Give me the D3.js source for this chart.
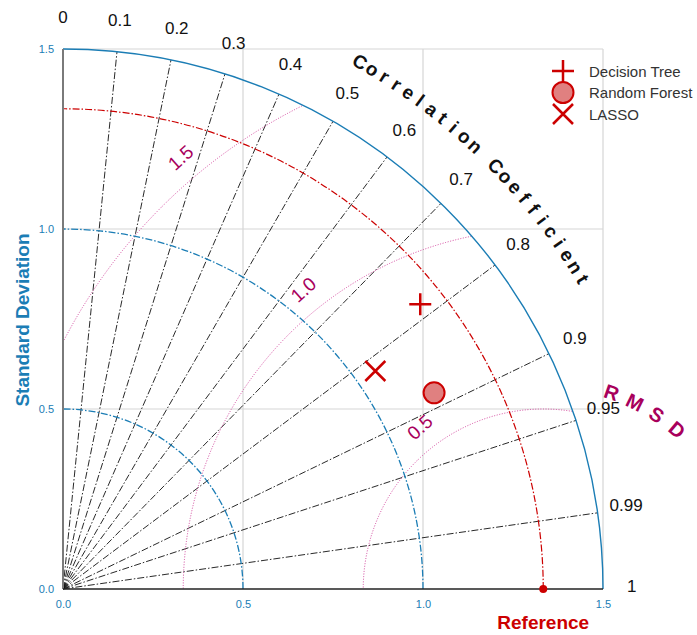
<!DOCTYPE html>
<html lang="en">
<head>
  <meta charset="UTF-8">
  <title>Taylor diagram</title>
  <script src="https://d3js.org/d3.v7.min.js"></script>
  <style>
    body,html{margin:0;padding:0;background:#fff;}
    text{font-family:"Liberation Sans",Arial,sans-serif;}
  </style>
</head>
<body>
<svg width="697" height="635"></svg>
<script>
  // data
  let models = ["Decision Tree", "Random Forest", "LASSO"];
  let stdDev = [1.269, 1.166, 1.058];
  let corrCoef = [0.782, 0.884, 0.820];
  let refStd = 1.334;
  let corrTicks = [0, 0.1, 0.2, 0.3, 0.4, 0.5, 0.6, 0.7, 0.8, 0.9, 0.95, 0.99, 1];
  let stdTicks = [0, 0.5, 1.0, 1.5];
  let rmsTicks = [0.5, 1.0, 1.5];
  let stdMax = 1.5;

  let svg = d3.select("svg");
  let blue = "#1b7db5", red = "#cc0000", rmsCol = "#d2449c", rmsLab = "#a8005c";

  let x = d3.scaleLinear().domain([0, stdMax]).range([63, 603]);
  let y = d3.scaleLinear().domain([0, stdMax]).range([589, 49]);
  let px = r => x(r) - x(0);

  // polar helpers: std + correlation -> screen
  let polar = (s, c) => [x(s * c), y(s * Math.sqrt(1 - c * c))];

  // grid
  let grid = svg.append("g");
  stdTicks.slice(1).forEach(v => {
    grid.append("line").attr("x1", x(v)).attr("x2", x(v)).attr("y1", y(0)).attr("y2", y(stdMax))
      .attr("stroke", "#d6d6d6").attr("stroke-width", 1.2);
    grid.append("line").attr("x1", x(0)).attr("x2", x(stdMax)).attr("y1", y(v)).attr("y2", y(v))
      .attr("stroke", "#d6d6d6").attr("stroke-width", 1.2);
  });

  // quarter clip
  svg.append("clipPath").attr("id", "quarter")
    .append("path")
    .attr("d", `M${x(0)},${y(0)} L${x(stdMax)},${y(0)} A${px(stdMax)},${px(stdMax)} 0 0 0 ${x(0)},${y(stdMax)} Z`);

  function quarterArc(r) {
    return `M${x(r)},${y(0)} A${px(r)},${px(r)} 0 0 0 ${x(0)},${y(r)}`;
  }

  // correlation rays
  svg.append("g").selectAll("line")
    .data(corrTicks.filter(c => c > 0 && c < 1))
    .join("line")
    .attr("x1", x(0)).attr("y1", y(0))
    .attr("x2", c => polar(stdMax, c)[0])
    .attr("y2", c => polar(stdMax, c)[1])
    .attr("stroke", "#111").attr("stroke-width", 0.9)
    .attr("stroke-dasharray", "7,2,1.5,2");

  // RMS contours around the reference
  let rms = svg.append("g").attr("clip-path", "url(#quarter)");
  rms.selectAll("circle").data(rmsTicks).join("circle")
    .attr("cx", x(refStd)).attr("cy", y(0)).attr("r", d => px(d))
    .attr("fill", "none").attr("stroke", rmsCol).attr("stroke-width", 1)
    .attr("stroke-dasharray", "1,1.6");

  // std arcs
  svg.append("g").selectAll("path").data([0.5, 1.0]).join("path")
    .attr("d", quarterArc).attr("fill", "none").attr("stroke", blue)
    .attr("stroke-width", 1.3).attr("stroke-dasharray", "7,2,1.5,2");
  svg.append("path").attr("d", quarterArc(stdMax)).attr("fill", "none")
    .attr("stroke", blue).attr("stroke-width", 1.4);

  // reference arc + point
  svg.append("path").attr("d", quarterArc(refStd)).attr("fill", "none")
    .attr("stroke", red).attr("stroke-width", 1.2).attr("stroke-dasharray", "7,2,1.5,2");

  // axes lines
  svg.append("line").attr("x1", x(0)).attr("x2", x(0)).attr("y1", y(0)).attr("y2", y(stdMax))
    .attr("stroke", "#7a7a7a").attr("stroke-width", 2);
  svg.append("line").attr("x1", x(0)).attr("x2", x(stdMax)).attr("y1", y(0)).attr("y2", y(0))
    .attr("stroke", "#222").attr("stroke-width", 1.6);

  svg.append("circle").attr("cx", x(refStd)).attr("cy", y(0)).attr("r", 4).attr("fill", red);

  // tick labels
  let yAxis = d3.axisLeft(y).tickValues(stdTicks).tickFormat(d3.format(".1f")).tickSize(0).tickPadding(9);
  let xAxis = d3.axisBottom(x).tickValues(stdTicks).tickFormat(d3.format(".1f")).tickSize(0).tickPadding(11);
  let gy = svg.append("g").attr("transform", `translate(${x(0)},0)`).call(yAxis);
  let gx = svg.append("g").attr("transform", `translate(0,${y(0)})`).call(xAxis);
  [gx, gy].forEach(g => {
    g.select(".domain").remove();
    g.selectAll("text").attr("fill", blue).attr("font-size", 11)
      .attr("font-family", "Liberation Sans, Arial, sans-serif");
  });

  // correlation tick labels
  svg.append("g").selectAll("text").data(corrTicks).join("text")
    .attr("x", c => polar(1.58, c)[0])
    .attr("y", c => polar(1.58, c)[1] - 3)
    .attr("text-anchor", "middle").attr("dominant-baseline", "central")
    .attr("font-size", 17).attr("fill", "#111")
    .text(c => String(c));

  // RMS labels
  svg.append("g").selectAll("text").data(rmsTicks).join("text")
    .attr("transform", d => {
      let a = (126 + 2.7 * d) * Math.PI / 180;
      let lx = x(refStd + (d + 0.065) * Math.cos(a));
      let ly = y((d + 0.065) * Math.sin(a));
      return `translate(${lx},${ly}) rotate(-42)`;
    })
    .attr("text-anchor", "middle").attr("dominant-baseline", "central")
    .attr("font-size", 19).attr("fill", rmsLab)
    .text(d => d3.format(".1f")(d));

  // curved titles, one character at a time
  function arcLabel(str, cx, cy, rad, a0, a1, opts) {
    let chars = str.split("");
    let step = (a1 - a0) / (chars.length - 1);
    svg.append("g").selectAll("text").data(chars).join("text")
      .attr("transform", (ch, i) => {
        let a = (a0 + i * step) * Math.PI / 180;
        return `translate(${cx + rad * Math.cos(a)},${cy - rad * Math.sin(a)}) rotate(${90 - (a0 + i * step)})`;
      })
      .attr("text-anchor", "middle").attr("dominant-baseline", "central")
      .attr("font-size", opts.size).attr("font-weight", "bold").attr("fill", opts.fill)
      .text(ch => ch);
  }
  arcLabel("Correlation Coefficient", x(0), y(0), 605, 60.6, 30.8, {size: 19, fill: "#111"});
  arcLabel("R M S D", x(refStd), y(0), 208, 70.8, 50.0, {size: 20, fill: rmsLab});

  // axis titles
  svg.append("text").attr("transform", `translate(22,320) rotate(-90)`)
    .attr("text-anchor", "middle").attr("dominant-baseline", "central")
    .attr("font-size", 19).attr("font-weight", "bold").attr("fill", blue)
    .text("Standard Deviation");
  svg.append("text").attr("x", x(refStd)).attr("y", 622)
    .attr("text-anchor", "middle").attr("dominant-baseline", "central")
    .attr("font-size", 19).attr("font-weight", "bold").attr("fill", red)
    .text("Reference");

  // markers
  function drawMarker(g, i, cx, cy) {
    if (i === 0) {
      g.append("path").attr("d", `M${cx - 11},${cy} H${cx + 11} M${cx},${cy - 11} V${cy + 11}`)
        .attr("stroke", red).attr("stroke-width", 2.5).attr("fill", "none");
    } else if (i === 1) {
      g.append("circle").attr("cx", cx).attr("cy", cy).attr("r", 10.5)
        .attr("fill", "#e08080").attr("stroke", red).attr("stroke-width", 2);
    } else {
      g.append("path").attr("d", `M${cx - 10},${cy - 10} L${cx + 10},${cy + 10} M${cx - 10},${cy + 10} L${cx + 10},${cy - 10}`)
        .attr("stroke", red).attr("stroke-width", 2.5).attr("fill", "none");
    }
  }
  let pts = svg.append("g");
  models.forEach((m, i) => {
    let p = polar(stdDev[i], corrCoef[i]);
    drawMarker(pts, i, p[0], p[1]);
  });

  // legend
  let leg = svg.append("g");
  models.forEach((m, i) => {
    let ly = 71 + i * 21.5;
    drawMarker(leg, i, 563, ly);
    leg.append("text").attr("x", 589).attr("y", ly).attr("dominant-baseline", "central")
      .attr("font-size", 15).attr("fill", "#333").text(m);
  });
</script>
</body>
</html>
